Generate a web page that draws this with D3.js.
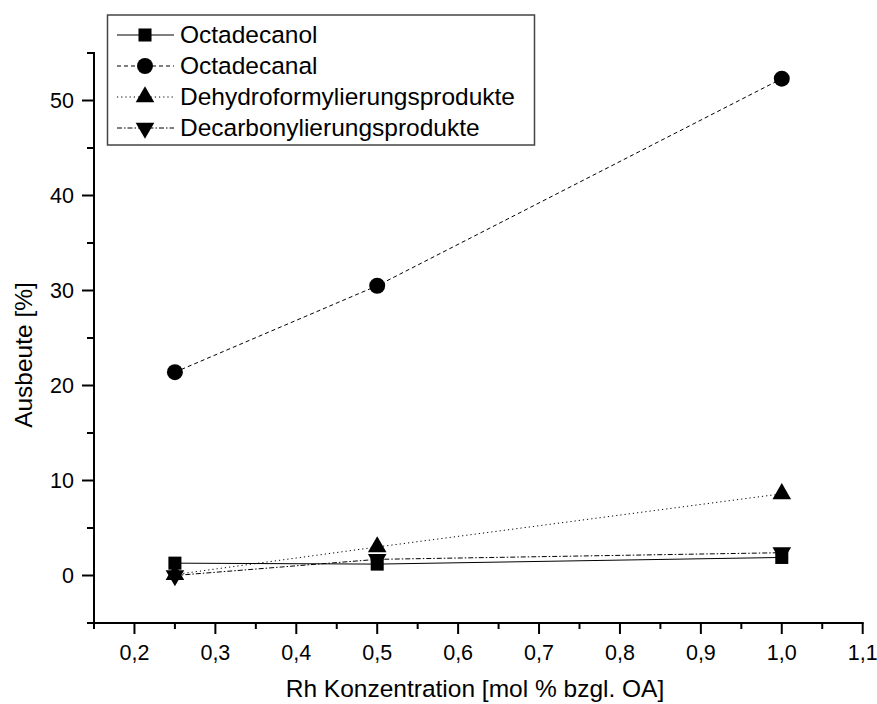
<!DOCTYPE html>
<html>
<head>
<meta charset="utf-8">
<script src="https://cdn.jsdelivr.net/npm/d3@7"></script>
<style>
  body { margin: 0; background: #fff; }
  svg { font-family: "Liberation Sans", Arial, sans-serif; }
</style>
</head>
<body>
<svg width="877" height="704"></svg>
<script>
var concentrations = [0.25, 0.5, 1.0];
var octadecanol = [1.3, 1.2, 1.9];
var octadecanal = [21.4, 30.5, 52.3];
var dehydro = [0.1, 3.0, 8.6];
var decarbonyl = [0.0, 1.7, 2.4];
var seriesNames = ["Octadecanol", "Octadecanal", "Dehydroformylierungsprodukte", "Decarbonylierungsprodukte"];
var xTickLabels = ["0,2", "0,3", "0,4", "0,5", "0,6", "0,7", "0,8", "0,9", "1,0", "1,1"];
var yTickLabels = ["0", "10", "20", "30", "40", "50"];

var svg = d3.select("svg");

var x = d3.scaleLinear().domain([0.15, 1.1]).range([94, 862.7]);
var y = d3.scaleLinear().domain([-5, 55]).range([623, 53]);

// series setup
var series = [
  {name: seriesNames[0], values: octadecanol, dash: null, sym: d3.symbolSquare, size: 170, rot: 0},
  {name: seriesNames[1], values: octadecanal, dash: "4,3", sym: d3.symbolCircle, size: 200, rot: 0},
  {name: seriesNames[2], values: dehydro, dash: "1.2,3", sym: d3.symbolTriangle, size: 150, rot: 0},
  {name: seriesNames[3], values: decarbonyl, dash: "5,2,1.5,2", sym: d3.symbolTriangle, size: 150, rot: 180}
];

// axes
var xMajor = xTickLabels.map(function(t) { return +t.replace(",", "."); });
var xMinor = d3.range(0.15, 1.1, 0.1);
var yMajor = yTickLabels.map(Number);
var yMinor = d3.range(-5, 56, 10);

var xAxis = svg.append("g").attr("transform", "translate(0,623)");
xAxis.append("line").attr("x1", x(0.15) - 1).attr("x2", x(1.1) + 1)
  .attr("stroke", "#000").attr("stroke-width", 2);
xAxis.selectAll("line.major").data(xMajor).enter().append("line")
  .attr("class", "major")
  .attr("x1", function(d) { return x(d); }).attr("x2", function(d) { return x(d); })
  .attr("y1", 0).attr("y2", 11).attr("stroke", "#000").attr("stroke-width", 2);
xAxis.selectAll("line.minor").data(xMinor).enter().append("line")
  .attr("class", "minor")
  .attr("x1", function(d) { return x(d); }).attr("x2", function(d) { return x(d); })
  .attr("y1", 0).attr("y2", 6).attr("stroke", "#000").attr("stroke-width", 2);
xAxis.selectAll("text").data(xTickLabels).enter().append("text")
  .attr("x", function(d, i) { return x(xMajor[i]); })
  .attr("y", 37)
  .attr("text-anchor", "middle")
  .attr("font-size", 21.5)
  .text(function(d) { return d; });

var yAxis = svg.append("g").attr("transform", "translate(94,0)");
yAxis.append("line").attr("y1", y(-5) + 1).attr("y2", y(55) - 1)
  .attr("stroke", "#000").attr("stroke-width", 2);
yAxis.selectAll("line.major").data(yMajor).enter().append("line")
  .attr("class", "major")
  .attr("y1", function(d) { return y(d); }).attr("y2", function(d) { return y(d); })
  .attr("x1", 0).attr("x2", -12).attr("stroke", "#000").attr("stroke-width", 2);
yAxis.selectAll("line.minor").data(yMinor).enter().append("line")
  .attr("class", "minor")
  .attr("y1", function(d) { return y(d); }).attr("y2", function(d) { return y(d); })
  .attr("x1", 0).attr("x2", -7).attr("stroke", "#000").attr("stroke-width", 2);
yAxis.selectAll("text").data(yTickLabels).enter().append("text")
  .attr("x", -20)
  .attr("y", function(d, i) { return y(yMajor[i]); })
  .attr("dy", "0.36em")
  .attr("text-anchor", "end")
  .attr("font-size", 21.5)
  .text(function(d) { return d; });

// axis titles
svg.append("text").attr("x", 475).attr("y", 697)
  .attr("text-anchor", "middle").attr("font-size", 24.5)
  .text("Rh Konzentration [mol % bzgl. OA]");
svg.append("text")
  .attr("transform", "translate(32,355) rotate(-90)")
  .attr("text-anchor", "middle").attr("font-size", 24.5)
  .text("Ausbeute [%]");

// lines
var line = d3.line()
  .x(function(d, i) { return x(concentrations[i]); })
  .y(function(d) { return y(d); });

series.forEach(function(s) {
  svg.append("path").datum(s.values)
    .attr("d", line)
    .attr("fill", "none")
    .attr("stroke", "#000")
    .attr("stroke-width", 1)
    .attr("stroke-dasharray", s.dash);
});

// symbols
series.forEach(function(s) {
  svg.selectAll(null).data(s.values).enter().append("path")
    .attr("d", d3.symbol().type(s.sym).size(s.size))
    .attr("transform", function(d, i) {
      return "translate(" + x(concentrations[i]) + "," + y(d) + ") rotate(" + s.rot + ")";
    })
    .attr("fill", "#000");
});

// legend
var legend = svg.append("g");
legend.append("rect").attr("x", 107.5).attr("y", 15).attr("width", 427).attr("height", 130)
  .attr("fill", "#fff").attr("stroke", "#444").attr("stroke-width", 1.5);

series.forEach(function(s, i) {
  var cy = 35 + 31 * i;
  legend.append("line").attr("x1", 117).attr("x2", 174).attr("y1", cy).attr("y2", cy)
    .attr("stroke", "#000").attr("stroke-width", 1).attr("stroke-dasharray", s.dash);
  legend.append("path")
    .attr("d", d3.symbol().type(s.sym).size(s.size))
    .attr("transform", "translate(145," + cy + ") rotate(" + s.rot + ")")
    .attr("fill", "#000");
  legend.append("text").attr("x", 180).attr("y", 43 + 31 * i)
    .attr("font-size", 24.5).text(s.name);
});
</script>
</body>
</html>
